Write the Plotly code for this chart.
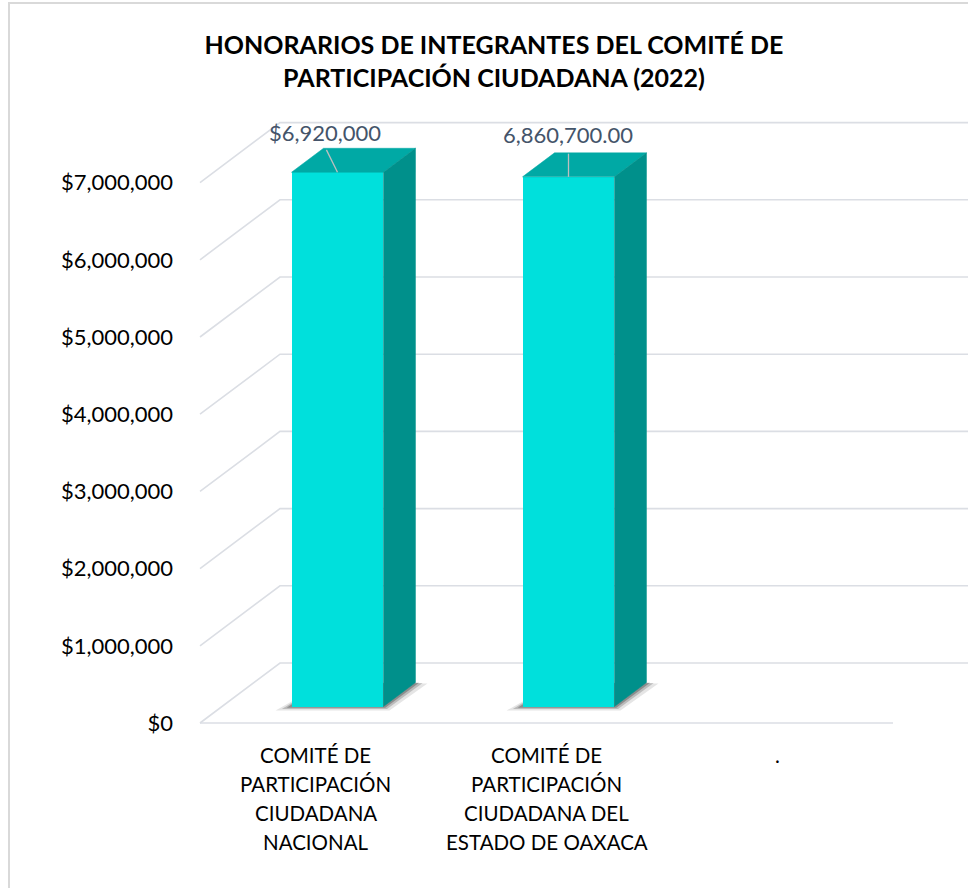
import plotly.graph_objects as go

# ---------------- data ----------------
category_lines = [
    ["COMITÉ DE", "PARTICIPACIÓN", "CIUDADANA", "NACIONAL"],
    ["COMITÉ DE", "PARTICIPACIÓN", "CIUDADANA DEL", "ESTADO DE OAXACA"],
    ["."],
]
values = [6920000, 6860700, None]
value_labels = ["$6,920,000", "6,860,700.00", None]
y_tickvals = [0, 1000000, 2000000, 3000000, 4000000, 5000000, 6000000, 7000000]
y_ticktext = ["$0", "$1,000,000", "$2,000,000", "$3,000,000", "$4,000,000",
              "$5,000,000", "$6,000,000", "$7,000,000"]
title_text = "HONORARIOS DE INTEGRANTES DEL COMITÉ DE<br>PARTICIPACIÓN CIUDADANA (2022)"

# ---------------- layout geometry / style ----------------
W, H = 968, 888
ML, MB, MT, MR = 190, 155, 100, 0
PX_X = 231.0            # px per category
PX_Y = 77.2 / 1e6       # px per unit value
x_min = -0.5 - 10 / PX_X
x_max = x_min + (W - ML - MR) / PX_X
y_min = -10 / PX_Y
y_max = y_min + (H - MT - MB) / PX_Y

DX, DY = 80 / PX_X, 60 / PX_Y         # floor depth vector
F0 = 0.275                            # bar front offset (fraction of depth)
BDX, BDY = 32 / PX_X, 24 / PX_Y       # bar depth
BAR_W = 0.398
SHIFT, BASE = F0 * DX, F0 * DY

FRONT = "#00E0DC"
TOP = "#00A9A5"
SIDE = "#00908B"
GRID = "#DBDEE4"
LABEL_COLOR = "#44546A"
FONT = "Lato"

# label offsets (x in category units, y in value units) relative to bar front-top centre
LABEL_OFF = [(-0.052, 0.51e6), (-0.004, 0.555e6)]
LEADER_START = [(-0.048, 0.29e6), (0.0, 0.30e6)]

fig = go.Figure()
shapes = []

# gridlines (left wall diagonal + back wall horizontal)
for v in y_tickvals:
    shapes.append(dict(
        type="path", xref="x", yref="y", layer="below",
        path=f"M {-0.5},{v} L {-0.5 + DX},{v + DY} L {x_max + 1},{v + DY}",
        line=dict(color=GRID, width=1.6)))
# front floor edge
shapes.append(dict(type="line", xref="x", yref="y", layer="below",
                   x0=-0.5, x1=2.5, y0=0, y1=0, line=dict(color=GRID, width=1.6)))

# shadows + 3D faces
for i, v in enumerate(values):
    if v is None:
        continue
    x0 = i + SHIFT - BAR_W / 2
    x1 = i + SHIFT + BAR_W / 2
    t = BASE + v
    for k, (ex, op) in enumerate([(1.0, 0.10), (0.6, 0.18), (0.3, 0.25)]):
        fl = x0 - ex * 16 / PX_X
        fr = x1 + ex * 6 / PX_X
        fy = BASE - ex * 4 / PX_Y
        br = x1 + BDX + ex * 12 / PX_X
        bl = x0 + BDX
        by = BASE + BDY - ex * 1 / PX_Y
        shapes.append(dict(type="path", xref="x", yref="y", layer="below",
                           path=f"M {fl},{fy} L {fr},{fy} L {br},{by} L {bl},{by} Z",
                           fillcolor=f"rgba(0,0,0,{op})", line=dict(width=0)))
    # top face
    fig.add_trace(go.Scatter(
        x=[x0, x1, x1 + BDX, x0 + BDX, x0],
        y=[t, t, t + BDY, t + BDY, t],
        fill="toself", fillcolor=TOP, mode="lines",
        line=dict(color=TOP, width=0.5), hoverinfo="skip", showlegend=False))
    # side face
    fig.add_trace(go.Scatter(
        x=[x1, x1, x1 + BDX, x1 + BDX, x1],
        y=[BASE, t, t + BDY, BASE + BDY, BASE],
        fill="toself", fillcolor=SIDE, mode="lines",
        line=dict(color=SIDE, width=0.5), hoverinfo="skip", showlegend=False))
    # leader line
    lx, ly = LEADER_START[i]
    fig.add_trace(go.Scatter(
        x=[i + SHIFT + lx, i + SHIFT], y=[t + ly, t],
        mode="lines", line=dict(color="#BFBFBF", width=1.3),
        hoverinfo="skip", showlegend=False))

# front faces as bars
fig.add_trace(go.Bar(
    x=[i + SHIFT for i in range(len(values))],
    y=[v if v is not None else 0 for v in values],
    base=BASE, width=BAR_W,
    marker=dict(color=FRONT, line=dict(width=0)),
    hoverinfo="skip", showlegend=False))

annotations = []
# data labels
for i, (v, lab) in enumerate(zip(values, value_labels)):
    if v is None or lab is None:
        continue
    ox, oy = LABEL_OFF[i]
    annotations.append(dict(
        x=i + SHIFT + ox, y=BASE + v + oy, xref="x", yref="y",
        text=lab, showarrow=False, xanchor="center", yanchor="middle",
        font=dict(family=FONT, size=22, color=LABEL_COLOR)))

# category labels (one annotation per line)
LINE_H = 29
FIRST_LINE_PX = 755
for i, lines in enumerate(category_lines):
    for j, ln in enumerate(lines):
        py = FIRST_LINE_PX + j * LINE_H
        annotations.append(dict(
            x=i, y=(H - MB - py) / (H - MT - MB), xref="x", yref="paper",
            text=ln, showarrow=False, xanchor="center", yanchor="middle",
            font=dict(family=FONT, size=20.5, color="#000000")))

# chart border
shapes.append(dict(type="rect", xref="paper", yref="paper",
                   x0=(9 - ML) / (W - ML - MR), x1=1.05,
                   y0=-0.5, y1=(H - MB - 3) / (H - MT - MB),
                   line=dict(color="#D9D9D9", width=2), fillcolor="rgba(0,0,0,0)",
                   layer="below"))

fig.update_layout(
    width=W, height=H,
    margin=dict(l=ML, r=MR, t=MT, b=MB, pad=0),
    paper_bgcolor="white", plot_bgcolor="white",
    showlegend=False,
    bargap=0,
    title=dict(text=title_text, x=494 / W, xref="container",
               xanchor="center", y=1 - 54 / H, yanchor="middle",
               font=dict(family=FONT, size=25, color="#000000", weight="bold")),
    xaxis=dict(range=[x_min, x_max], showgrid=False, zeroline=False,
               showticklabels=False, showline=False, fixedrange=True),
    yaxis=dict(range=[y_min, y_max], showgrid=False, zeroline=False,
               showline=False, tickvals=y_tickvals, ticktext=y_ticktext,
               ticks="", ticklabelstandoff=16, fixedrange=True,
               tickfont=dict(family=FONT, size=22, color="#000000")),
    shapes=shapes,
    annotations=annotations,
)

fig.write_html("out.html",
               config={"displayModeBar": False, "staticPlot": True},
               post_script="document.body.style.margin='0';document.body.style.overflow='hidden';")
